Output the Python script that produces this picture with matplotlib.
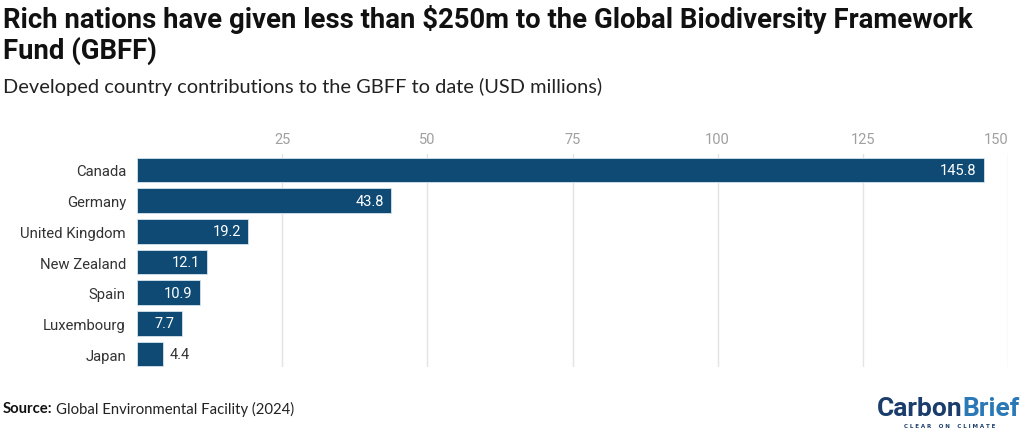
import matplotlib.pyplot as plt

countries = ["Canada", "Germany", "United Kingdom", "New Zealand", "Spain", "Luxembourg", "Japan"]
values = [145.8, 43.8, 19.2, 12.1, 10.9, 7.7, 4.4]
xticks = [25, 50, 75, 100, 125, 150]

bar_color = "#0f4a74"

fig = plt.figure(figsize=(10.24, 4.35), dpi=100)
ax = fig.add_axes([137 / 1024, 1 - 368 / 435, (1008 - 137) / 1024, (368 - 155) / 435])

ax.barh(range(len(countries)), values, height=0.8, color=bar_color,
        edgecolor="#d6e4ef", linewidth=0.6, zorder=3)
ax.set_xlim(0, 150)
ax.set_ylim(6.42, -0.52)
ax.set_yticks(range(len(countries)))
ax.set_yticklabels(countries, fontfamily="Roboto", fontsize=10.7, color="#333333")
ax.xaxis.tick_top()
ax.set_xticks(xticks)
ax.set_xticklabels([str(t) for t in xticks], fontfamily="Roboto", fontsize=10.5, color="#a0a0a0")
ax.tick_params(axis="both", length=0)
ax.tick_params(axis="x", pad=6)
ax.tick_params(axis="y", pad=8)
ax.grid(axis="x", color="#e4e4e4", linewidth=1, zorder=0)
for s in ax.spines.values():
    s.set_visible(False)
# last tick label sits inside the plot edge
ax.xaxis.get_major_ticks()[-1].label2.set_horizontalalignment("right")

for i, v in enumerate(values):
    if v > 6:
        ax.text(v - 1.3, i, f"{v}", ha="right", va="center", color="white",
                fontfamily="Roboto", fontsize=10.5, zorder=4)
    else:
        ax.text(v + 1.3, i, f"{v}", ha="left", va="center", color="#333333",
                fontfamily="Roboto", fontsize=10.5, zorder=4)

title_font = dict(fontfamily="Roboto", fontweight="bold", fontsize=19.8, color="#111111", va="center")
fig.text(0.003, 1 - 20 / 435, "Rich nations have given less than $250m to the Global Biodiversity Framework",
         **title_font)
fig.text(0.003, 1 - 51 / 435, "Fund (GBFF)", **title_font)
fig.text(0.003, 1 - 87 / 435, "Developed country contributions to the GBFF to date (USD millions)",
         fontfamily="Lato", fontsize=14.4, color="#222222", va="center")

fig.text(0.003, 1 - 409 / 435, "Source:", fontfamily="Lato", fontweight="bold",
         fontsize=10.7, color="#111111", va="center")
fig.text(0.055, 1 - 409 / 435, "Global Environmental Facility (2024)", fontfamily="Lato",
         fontsize=10.7, color="#222222", va="center")

# logo
carbon = fig.text(877 / 1024, 1 - 416 / 435, "Carbon", fontfamily="Roboto", fontweight="bold",
                  fontsize=19, color="#1b3d6b", va="baseline")
fig.canvas.draw()
ax.annotate("Brief", xy=(1, 0), xycoords=carbon, fontfamily="Roboto", fontweight="bold",
            fontsize=19, color="#2a79b6", va="bottom", ha="left", annotation_clip=False)
fig.text(950 / 1024, 1 - 427 / 435, "C L E A R    O N    C L I M A T E", fontfamily="DejaVu Sans",
         fontsize=4, fontweight="bold", color="#1b3d6b", va="center", ha="center")

fig.savefig("out.png", dpi=100, facecolor="white")
